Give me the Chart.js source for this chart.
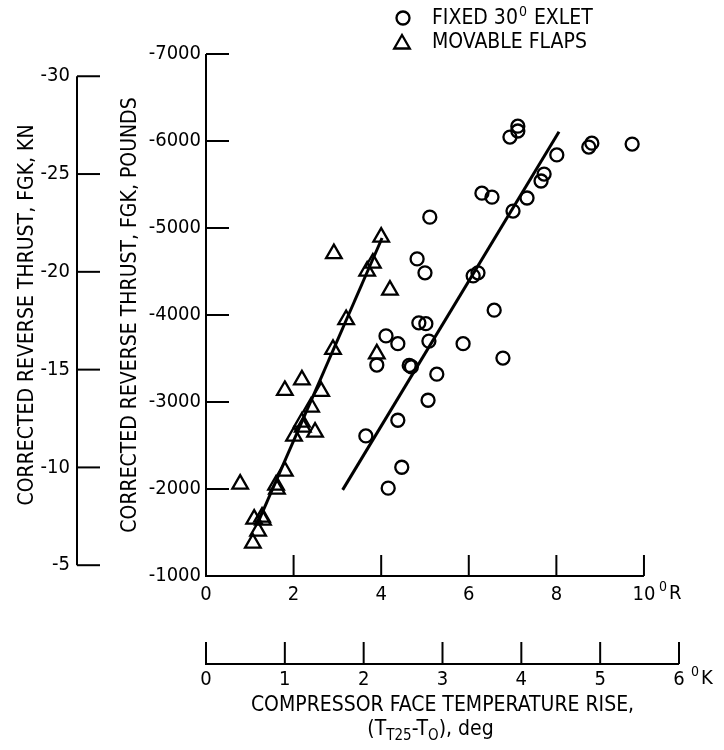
<!DOCTYPE html>
<html><head><meta charset="utf-8">
<script src="https://cdn.jsdelivr.net/npm/chart.js@4.4.0/dist/chart.umd.min.js"></script>
<style>html,body{margin:0;padding:0;background:#fff;overflow:hidden}canvas{display:block}</style>
</head><body>
<canvas id="c" width="724" height="750"></canvas>
<script>
// ---- data (x: temperature rise in deg R, y: corrected reverse thrust in pounds) ----
const fixedExletX = [4.11, 4.38, 3.90, 4.64, 4.69, 3.65, 4.16, 4.47, 4.38, 5.07, 5.27, 5.09, 5.87, 6.78, 6.58, 4.86, 5.02, 4.82, 5.00, 5.11, 6.10, 6.21, 6.30, 6.53, 7.01, 7.33, 7.65, 7.72, 8.01, 6.94, 7.12, 7.12, 8.74, 8.81, 9.73];
const fixedExletY = [-3760, -3670, -3425, -3420, -3405, -2610, -2010, -2250, -2790, -3020, -3320, -3700, -3670, -3505, -4055, -3910, -3900, -4645, -4485, -5125, -4450, -4485, -5400, -5355, -5195, -5345, -5540, -5620, -5840, -6045, -6170, -6115, -5930, -5975, -5965];
const movableFlapsX = [2.92, 4.00, 3.81, 3.68, 4.20, 3.20, 2.90, 3.90, 2.19, 1.80, 2.63, 2.40, 2.19, 2.21, 2.49, 2.01, 1.80, 1.60, 1.62, 0.78, 1.28, 1.10, 1.30, 1.19, 1.07];
const movableFlapsY = [-4705, -4895, -4597, -4505, -4286, -3947, -3605, -3554, -3255, -3133, -3122, -2942, -2769, -2712, -2654, -2608, -2206, -2045, -1999, -2056, -1677, -1654, -1643, -1516, -1378];
const fixedFitX = [3.12, 8.06];
const fixedFitY = [-1990, -6107];
const flapsFitX = [1.20, 4.02];
const flapsFitY = [-1630, -4885];

const poundsTicks = [-7000, -6000, -5000, -4000, -3000, -2000, -1000];
const knTicks = [-30, -25, -20, -15, -10, -5];
const rankineTicks = [0, 2, 4, 6, 8, 10];
const kelvinTicks = [0, 1, 2, 3, 4, 5, 6];
const seriesNames = ['FIXED 30', 'MOVABLE FLAPS'];

const LB_TO_KN = 0.00444822;
const K_TO_R = 1.8;
const FONT = "'Liberation Sans Narrow','DejaVu Sans Condensed','Arial Narrow',sans-serif";
const FS = 21;
const TFS = 20;

const pts = (xs, ys) => xs.map((v, i) => ({x: v, y: ys[i]}));
const setTicks = arr => s => { s.ticks = arr.map(v => ({value: v})); };

const axesPlugin = {
  id: 'axesPlugin',
  afterDraw(chart) {
    const {ctx} = chart;
    const {x, xk, y, ykn} = chart.scales;
    ctx.save();
    ctx.strokeStyle = '#000';
    ctx.fillStyle = '#000';
    ctx.lineWidth = 2;
    ctx.lineCap = 'butt';
    const line = (x1, y1, x2, y2) => { ctx.beginPath(); ctx.moveTo(x1, y1); ctx.lineTo(x2, y2); ctx.stroke(); };

    // pounds axis
    const ax = x.getPixelForValue(0);
    line(ax, y.getPixelForValue(poundsTicks[0]), ax, y.getPixelForValue(poundsTicks[poundsTicks.length - 1]) + 1);
    poundsTicks.forEach(v => line(ax, y.getPixelForValue(v), ax + 23, y.getPixelForValue(v)));

    // kN axis
    const kx = ykn.right;
    line(kx, ykn.getPixelForValue(knTicks[0]), kx, ykn.getPixelForValue(knTicks[knTicks.length - 1]));
    knTicks.forEach(v => line(kx, ykn.getPixelForValue(v), kx + 23, ykn.getPixelForValue(v)));

    // Rankine axis
    const ry = y.getPixelForValue(-1000);
    line(x.getPixelForValue(rankineTicks[0]) - 1, ry, x.getPixelForValue(rankineTicks[rankineTicks.length - 1]), ry);
    rankineTicks.forEach(v => line(x.getPixelForValue(v), ry, x.getPixelForValue(v), ry - 21));

    // Kelvin axis
    const kyy = xk.top + 24;
    line(xk.getPixelForValue(kelvinTicks[0]) - 1, kyy, xk.getPixelForValue(kelvinTicks[kelvinTicks.length - 1]), kyy);
    kelvinTicks.forEach(v => line(xk.getPixelForValue(v), kyy, xk.getPixelForValue(v), kyy - 22));

    // unit labels
    ctx.textBaseline = 'middle';
    ctx.textAlign = 'left';
    const unit = (px, py, letter) => {
      ctx.font = `14px ${FONT}`;
      ctx.fillText('0', px, py - 7);
      const w = ctx.measureText('0').width;
      ctx.font = `${TFS}px ${FONT}`;
      ctx.fillText(letter, px + w + 2, py);
    };
    unit(x.getPixelForValue(10) + 15, x.top + 6 + 12, 'R');
    unit(xk.getPixelForValue(6) + 12, xk.top + 27 + 12, 'K');

    // subtitle with subscripts: (T_T25 - T_O), deg
    const parts = [['(T', false], ['T25', true], ['-T', false], ['O', true], ['), deg', false]];
    const big = `${FS}px ${FONT}`, small = `15px ${FONT}`;
    let total = 0;
    parts.forEach(([t, sub]) => { ctx.font = sub ? small : big; total += ctx.measureText(t).width; });
    let sx = (xk.left + xk.right) / 2 - total / 2 - 12;
    const sy = 730;
    parts.forEach(([t, sub]) => {
      ctx.font = sub ? small : big;
      ctx.fillText(t, sx, sub ? sy + 6 : sy);
      sx += ctx.measureText(t).width;
    });

    // legend
    ctx.lineWidth = 2.3;
    ctx.beginPath(); ctx.arc(403, 18, 6.5, 0, Math.PI * 2); ctx.stroke();
    const tr = 9, tx = 402, ty = 44;
    ctx.beginPath();
    for (let i = 0; i < 3; i++) {
      const a = i * 2 * Math.PI / 3;
      const px = tx + Math.sin(a) * tr, py = ty - Math.cos(a) * tr;
      if (i === 0) ctx.moveTo(px, py); else ctx.lineTo(px, py);
    }
    ctx.closePath(); ctx.stroke();
    ctx.font = big;
    ctx.fillText(seriesNames[0], 432, 19);
    let lw = ctx.measureText(seriesNames[0]).width;
    ctx.font = `14px ${FONT}`;
    ctx.fillText('0', 432 + lw + 1, 12);
    const w0 = ctx.measureText('0').width;
    ctx.font = big;
    ctx.fillText(' EXLET', 432 + lw + w0 + 2, 19);
    ctx.fillText(seriesNames[1], 432, 43);
    ctx.restore();
  }
};

const tickFont = {family: FONT, size: TFS};
const titleFont = {family: FONT, size: FS};
new Chart(document.getElementById('c'), {
  type: 'scatter',
  data: {
    datasets: [
      {label: 'FIXED 30 EXLET', data: pts(fixedExletX, fixedExletY), pointStyle: 'circle', pointRadius: 6.5, borderWidth: 2.3, borderColor: '#000', backgroundColor: 'rgba(0,0,0,0)', pointBackgroundColor: 'rgba(0,0,0,0)'},
      {label: 'MOVABLE FLAPS', data: pts(movableFlapsX, movableFlapsY), pointStyle: 'triangle', pointRadius: 9, borderWidth: 2.3, borderColor: '#000', backgroundColor: 'rgba(0,0,0,0)', pointBackgroundColor: 'rgba(0,0,0,0)'},
      {label: 'fit fixed', data: pts(fixedFitX, fixedFitY), showLine: true, pointRadius: 0, borderWidth: 3, borderColor: '#000'},
      {label: 'fit flaps', data: pts(flapsFitX, flapsFitY), showLine: true, pointRadius: 0, borderWidth: 3, borderColor: '#000'}
    ]
  },
  options: {
    responsive: false,
    animation: false,
    devicePixelRatio: 1,
    layout: {padding: {left: 0, top: 54, right: 45, bottom: 0}},
    plugins: {legend: {display: false}, tooltip: {enabled: false}},
    scales: {
      x: {
        type: 'linear', position: 'bottom', weight: 0,
        min: 0, max: kelvinTicks[kelvinTicks.length - 1] * K_TO_R,
        afterBuildTicks: setTicks(rankineTicks),
        afterFit: s => { s.height = 64; },
        grid: {display: false, drawTicks: false}, border: {display: false},
        ticks: {font: tickFont, color: '#000', padding: 7, maxRotation: 0, autoSkip: false, callback: v => String(v)}
      },
      xk: {
        type: 'linear', position: 'bottom', weight: 1,
        min: 0, max: kelvinTicks[kelvinTicks.length - 1],
        afterBuildTicks: setTicks(kelvinTicks),
        afterFit: s => { s.height = 110; },
        grid: {display: false, drawTicks: false}, border: {display: false},
        ticks: {font: tickFont, color: '#000', padding: 28, maxRotation: 0, autoSkip: false, callback: v => String(v)},
        title: {display: true, text: 'COMPRESSOR FACE TEMPERATURE RISE,', color: '#000', font: titleFont, padding: {top: 0, bottom: 32}}
      },
      y: {
        type: 'linear', position: 'left', weight: 0, reverse: true,
        min: poundsTicks[0], max: poundsTicks[poundsTicks.length - 1],
        afterBuildTicks: setTicks(poundsTicks),
        afterFit: s => { s.width = 129; },
        grid: {display: false, drawTicks: false}, border: {display: false},
        ticks: {font: tickFont, color: '#000', padding: 5, callback: v => String(v)},
        title: {display: true, text: 'CORRECTED REVERSE THRUST, FGK, POUNDS', color: '#000', font: titleFont, padding: {top: 41, bottom: 0}}
      },
      ykn: {
        type: 'linear', position: 'left', weight: 1, reverse: true,
        min: poundsTicks[0] * LB_TO_KN, max: poundsTicks[poundsTicks.length - 1] * LB_TO_KN,
        afterBuildTicks: setTicks(knTicks),
        afterFit: s => { s.width = 77; },
        grid: {display: false, drawTicks: false}, border: {display: false},
        ticks: {font: tickFont, color: '#000', padding: 7, callback: v => String(v)},
        title: {display: true, text: 'CORRECTED REVERSE THRUST, FGK, KN', color: '#000', font: titleFont, padding: {top: 15, bottom: 0}}
      }
    }
  },
  plugins: [axesPlugin]
});
</script>
</body></html>
